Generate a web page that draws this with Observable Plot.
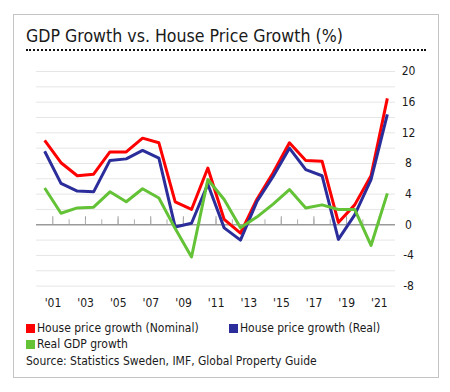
<!DOCTYPE html>
<html>
<head>
<meta charset="utf-8">
<script src="https://cdn.jsdelivr.net/npm/d3@7"></script>
<script src="https://cdn.jsdelivr.net/npm/@observablehq/plot@0.6"></script>
<style>
  html, body { margin: 0; padding: 0; background: #fff; }
  body { width: 450px; height: 392px; position: relative; overflow: hidden;
         font-family: "DejaVu Sans Condensed", "DejaVu Sans", sans-serif; font-stretch: condensed; color: #1a1a1a; }
  #box { position: absolute; left: 13px; top: 14px; width: 424px; height: 362px; border: 1px solid #c4c4c4; }
  #title { position: absolute; left: 26px; top: 26px; font-size: 18px; line-height: 20px; white-space: nowrap; color: #1a1a1a; }
  #dots { position: absolute; left: 26px; top: 49px; width: 400px; height: 0; border-top: 2px dotted #111; }
  #chart { position: absolute; left: 0; top: 60px; }
  .sw { position: absolute; width: 9px; height: 9px; }
  .lt { position: absolute; font-size: 12px; line-height: 15px; white-space: nowrap; color: #1a1a1a; }
</style>
</head>
<body>
<div id="box"></div>
<div id="title">GDP Growth vs. House Price Growth (%)</div>
<div id="dots"></div>
<div id="chart"></div>
<div class="sw" id="sw0" style="left:26px;top:324px;"></div>
<div class="lt" id="lt0" style="left:37px;top:321px;"></div>
<div class="sw" id="sw1" style="left:229px;top:324px;"></div>
<div class="lt" id="lt1" style="left:240px;top:321px;"></div>
<div class="sw" id="sw2" style="left:26px;top:340px;"></div>
<div class="lt" id="lt2" style="left:37px;top:337px;"></div>
<div class="lt" id="source" style="left:26px;top:354px;"></div>
<script>
// ---- data ----
const years = [2000, 2001, 2002, 2003, 2004, 2005, 2006, 2007, 2008, 2009, 2010,
               2011, 2012, 2013, 2014, 2015, 2016, 2017, 2018, 2019, 2020, 2021];
const houseNominal = [11.0, 8.1, 6.4, 6.6, 9.5, 9.5, 11.3, 10.7, 3.0, 2.0, 7.4,
                      0.7, -1.1, 3.3, 6.8, 10.7, 8.4, 8.3, 0.3, 2.6, 6.4, 16.5];
const houseReal = [9.6, 5.4, 4.4, 4.3, 8.4, 8.6, 9.7, 8.7, -0.3, 0.2, 5.3,
                   -0.4, -2.0, 3.0, 6.3, 10.0, 7.2, 6.4, -1.9, 1.3, 5.9, 14.4];
const realGdp = [4.8, 1.5, 2.2, 2.3, 4.3, 3.0, 4.7, 3.5, -0.5, -4.2, 5.9,
                 3.3, -0.4, 1.0, 2.7, 4.6, 2.2, 2.6, 2.0, 2.0, -2.7, 4.1];
const seriesNames = ["House price growth (Nominal)", "House price growth (Real)", "Real GDP growth"];
const seriesColors = ["#ff0000", "#2b2d9a", "#63c236"];
const yTicks = [-8, -4, 0, 4, 8, 12, 16, 20];
const yGrid = [-8, -6, -4, -2, 2, 4, 6, 8, 10, 12, 14, 16, 18, 20];
const xLabelYears = [2001, 2003, 2005, 2007, 2009, 2011, 2013, 2015, 2017, 2019, 2021];
const titleText = "GDP Growth vs. House Price Growth (%)";
const sourceText = "Source: Statistics Sweden, IMF, Global Property Guide";

// ---- build table ----
const seriesValues = [houseNominal, houseReal, realGdp];
const rows = [];
seriesNames.forEach((name, s) => years.forEach((yr, i) => rows.push({year: yr, value: seriesValues[s][i], series: name})));
// tick marks between categories on the zero line
const longTicks = xLabelYears.map(y => y - 0.5);
const shortTicks = years.slice(1).map(y => y + 0.5).filter(v => v < years[years.length - 1]);

const chart = Plot.plot({
  width: 450,
  height: 255,
  marginLeft: 36,
  marginRight: 55,
  marginTop: 11,
  marginBottom: 29.4,
  x: {domain: [years[0] - 0.5, years[years.length - 1] + 0.5], label: null},
  y: {domain: [yTicks[0], yTicks[yTicks.length - 1]], label: null},
  color: {domain: seriesNames, range: seriesColors},
  style: {fontFamily: '"DejaVu Sans Condensed", "DejaVu Sans", sans-serif', fontSize: "12px", color: "#1a1a1a", background: "transparent", overflow: "visible"},
  marks: [
    Plot.gridY(yGrid, {stroke: "#e6e6e6", strokeOpacity: 1, strokeWidth: 1}),
    Plot.ruleY([0], {stroke: "#9a9a9a", strokeWidth: 1.5}),
    Plot.ruleX(longTicks, {x: d => d, y1: 0, y2: 0, insetTop: -8, stroke: "#9a9a9a", strokeWidth: 1}),
    Plot.ruleX(shortTicks, {x: d => d, y1: 0, y2: 0, insetTop: -5, stroke: "#b0b0b0", strokeWidth: 1}),
    Plot.axisY(yTicks, {anchor: "right", tickSize: 0, tickPadding: 13, textAnchor: "middle", fontSize: 12,
                        label: null, tickFormat: d => String(d)}),
    Plot.axisX(xLabelYears, {anchor: "bottom", tickSize: 0, tickPadding: 12, dx: -8, fontSize: 12, label: null,
                             tickFormat: d => "'" + String(d).slice(2)}),
    Plot.line(rows, {x: "year", y: "value", z: "series", stroke: "series", strokeWidth: 3,
                     strokeLinejoin: "round", strokeLinecap: "butt"})
  ]
});
document.getElementById("chart").appendChild(chart);

// ---- legend & texts ----
seriesNames.forEach((name, i) => {
  document.getElementById("sw" + i).style.background = seriesColors[i];
  document.getElementById("lt" + i).textContent = name;
});
document.getElementById("source").textContent = sourceText;
const t = document.getElementById("title");
t.textContent = titleText;
// fit title width to the reference (~317px)
const w = t.getBoundingClientRect().width;
if (w > 0) t.style.fontSize = (18 * 317 / w).toFixed(2) + "px";
</script>
</body>
</html>
